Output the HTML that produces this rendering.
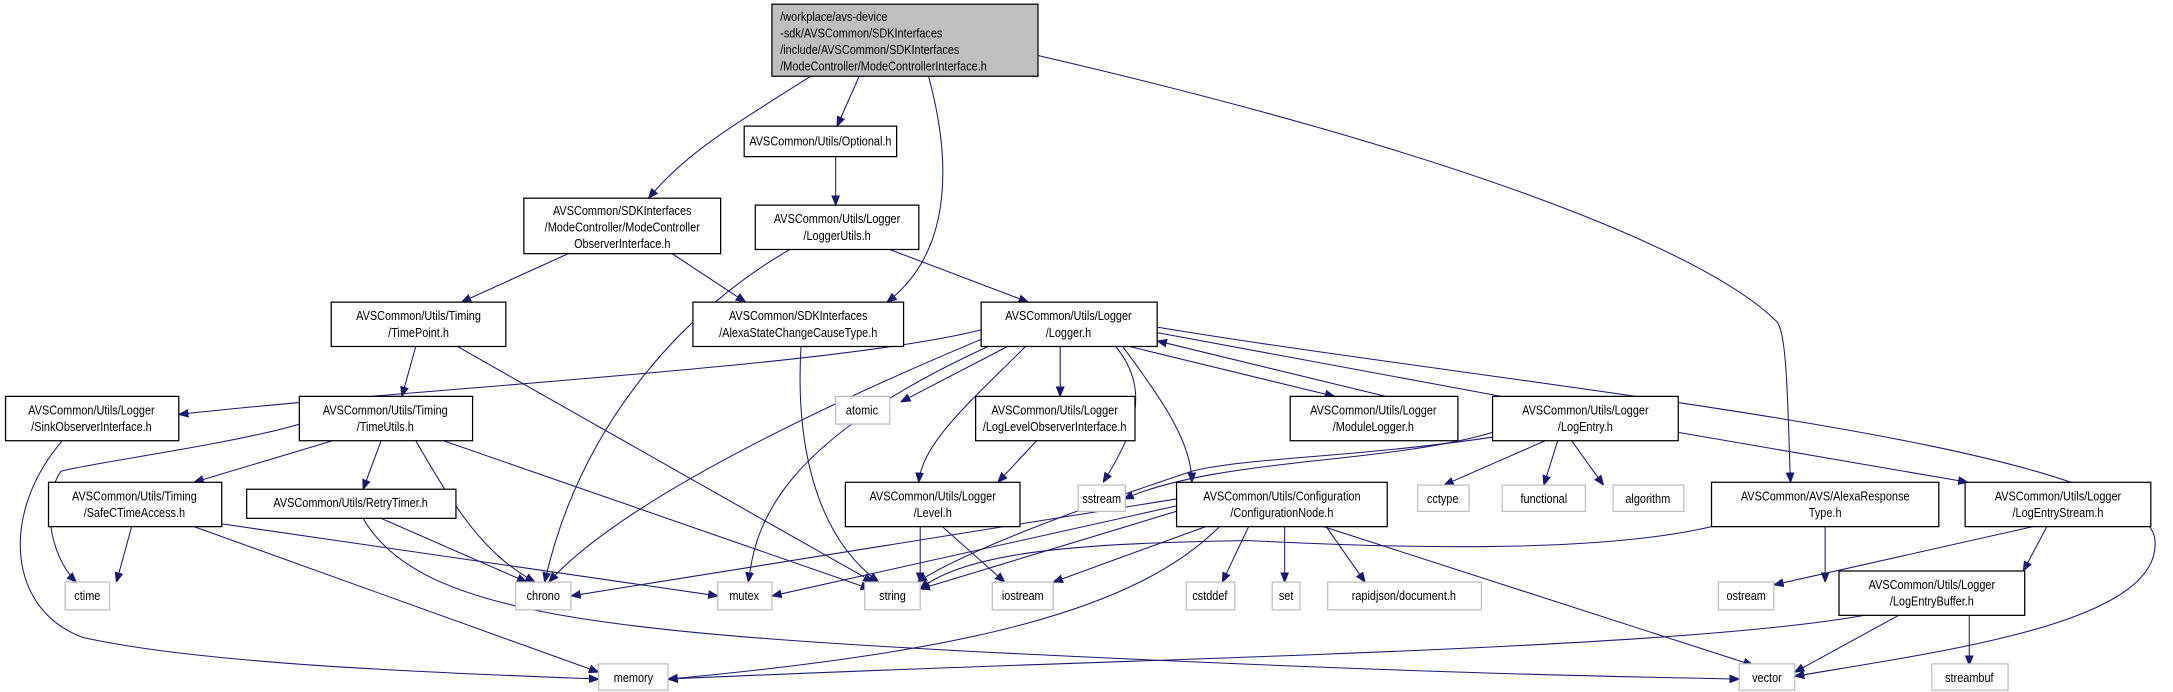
<!DOCTYPE html>
<html><head><meta charset="utf-8"><style>
html,body{margin:0;padding:0;background:#fff;}
svg{display:block;}
text{font-family:"Liberation Sans",sans-serif;font-size:9.6px;fill:#000;transform-box:fill-box;transform-origin:center;transform:scaleX(0.82);}
text.l{transform-origin:left;}
.n{fill:#fff;stroke:#000;stroke-width:0.9;}
.g{fill:#fff;stroke:#bfbfbf;stroke-width:0.9;}
.e{fill:none;stroke:#191970;stroke-width:0.75;}
</style></head><body>
<svg width="2173" height="692" viewBox="0 0 1568 499.3" xmlns="http://www.w3.org/2000/svg">
<defs><marker id="a" viewBox="0 0 10 10" refX="10" refY="5" markerWidth="7" markerHeight="7" markerUnits="userSpaceOnUse" orient="auto"><path d="M0,1 L10,5 L0,9 z" fill="#191970" stroke="#191970"/></marker></defs>
<g class="e" marker-end="url(#a)">
<path d="M585,55 C530,90 495,110 468,143"/>
<path d="M620,55 L604,91"/>
<path d="M670,55 C685,110 690,180 640,218"/>
<path d="M749,40 C1050,110 1230,180 1282,232 C1290,240 1290,300 1292,348"/>
<path d="M603,113 L603,148"/>
<path d="M410,183 L333,218"/>
<path d="M485,183 L538,218"/>
<path d="M570,180 C500,220 420,300 393,420"/>
<path d="M642,180 L742,218"/>
<path d="M300,250 L290,286"/>
<path d="M330,250 L630,420"/>
<path d="M578,250 C575,300 580,380 634,420"/>
<path d="M708,238 C600,265 300,280 129,299"/>
<path d="M710,244 C600,290 450,360 396,420"/>
<path d="M713,250 C560,320 545,380 540,420"/>
<path d="M727,250 L650,290"/>
<path d="M740,250 C700,290 665,320 663,348"/>
<path d="M765,250 L765,286"/>
<path d="M805,250 C830,280 820,310 796,348"/>
<path d="M810,250 C840,290 860,320 860,348"/>
<path d="M815,250 L963,286"/>
<path d="M1000,286 L835,246"/>
<path d="M835,240 L1105,290"/>
<path d="M835,236 C1100,280 1550,320 1555,390 C1560,450 1400,470 1295,488"/>
<path d="M45,318 C0,370 5,440 60,460 C150,480 330,486 432,490"/>
<path d="M216,306 C170,320 60,335 44,340 C30,360 35,400 55,420"/>
<path d="M240,318 L140,348"/>
<path d="M275,318 L262,353"/>
<path d="M300,318 C330,370 350,400 386,420"/>
<path d="M320,318 L628,425"/>
<path d="M95,380 L84,420"/>
<path d="M140,380 L432,485"/>
<path d="M160,378 L518,430"/>
<path d="M275,374 L380,420"/>
<path d="M262,374 C300,440 420,455 700,470 C1000,485 1150,488 1255,490"/>
<path d="M748,318 L720,348"/>
<path d="M664,380 L664,420"/>
<path d="M680,380 L725,420"/>
<path d="M1077,312 C1000,335 880,330 811,360"/>
<path d="M1080,315 C980,330 900,330 860,340 C800,360 700,395 662,420"/>
<path d="M1115,318 L1042,350"/>
<path d="M1124,318 L1114,350"/>
<path d="M1134,318 L1157,350"/>
<path d="M1211,312 L1420,348"/>
<path d="M849,360 L412,430"/>
<path d="M849,365 L557,430"/>
<path d="M852,368 L664,425"/>
<path d="M870,380 L760,420"/>
<path d="M880,380 C820,440 700,470 482,490"/>
<path d="M901,380 L882,420"/>
<path d="M927,380 L927,420"/>
<path d="M957,380 L985,420"/>
<path d="M955,380 L1265,480"/>
<path d="M1235,380 C1150,400 1000,395 900,390 C800,392 700,395 664,425"/>
<path d="M1317,380 L1317,420"/>
<path d="M1467,380 L1280,422"/>
<path d="M1477,380 L1460,412"/>
<path d="M1345,444 C1200,470 800,475 482,490"/>
<path d="M1370,444 L1295,485"/>
<path d="M1421,444 L1421,480"/>
</g>
<rect x="557" y="3" width="192" height="52" fill="#bfbfbf" stroke="#000" stroke-width="0.9"/>
<text class="l" x="563" y="15">/workplace/avs-device</text>
<text class="l" x="563" y="27">-sdk/AVSCommon/SDKInterfaces</text>
<text class="l" x="563" y="39">/include/AVSCommon/SDKInterfaces</text>
<text class="l" x="563" y="51">/ModeController/ModeControllerInterface.h</text>
<g text-anchor="middle">
<rect class="n" x="537" y="91" width="110" height="22"/><text x="592" y="105">AVSCommon/Utils/Optional.h</text>
<rect class="n" x="378" y="143" width="142" height="40"/><text x="449" y="155">AVSCommon/SDKInterfaces</text><text x="449" y="167">/ModeController/ModeController</text><text x="449" y="179">ObserverInterface.h</text>
<rect class="n" x="545" y="148" width="118" height="32"/><text x="604" y="161">AVSCommon/Utils/Logger</text><text x="604" y="173">/LoggerUtils.h</text>
<rect class="n" x="239" y="218" width="126" height="32"/><text x="302" y="231">AVSCommon/Utils/Timing</text><text x="302" y="243">/TimePoint.h</text>
<rect class="n" x="500" y="218" width="152" height="32"/><text x="576" y="231">AVSCommon/SDKInterfaces</text><text x="576" y="243">/AlexaStateChangeCauseType.h</text>
<rect class="n" x="708" y="218" width="127" height="32"/><text x="771" y="231">AVSCommon/Utils/Logger</text><text x="771" y="243">/Logger.h</text>
<rect class="n" x="4" y="286" width="125" height="32"/><text x="66" y="299">AVSCommon/Utils/Logger</text><text x="66" y="311">/SinkObserverInterface.h</text>
<rect class="n" x="216" y="286" width="125" height="32"/><text x="278" y="299">AVSCommon/Utils/Timing</text><text x="278" y="311">/TimeUtils.h</text>
<rect class="g" x="603" y="286" width="39" height="20"/><text x="622" y="299">atomic</text>
<rect class="n" x="704" y="286" width="115" height="32"/><text x="761" y="299">AVSCommon/Utils/Logger</text><text x="761" y="311">/LogLevelObserverInterface.h</text>
<rect class="n" x="931" y="286" width="121" height="32"/><text x="991" y="299">AVSCommon/Utils/Logger</text><text x="991" y="311">/ModuleLogger.h</text>
<rect class="n" x="1077" y="286" width="134" height="32"/><text x="1144" y="299">AVSCommon/Utils/Logger</text><text x="1144" y="311">/LogEntry.h</text>
<rect class="n" x="35" y="348" width="125" height="32"/><text x="97" y="361">AVSCommon/Utils/Timing</text><text x="97" y="373">/SafeCTimeAccess.h</text>
<rect class="n" x="178" y="353" width="151" height="21"/><text x="253" y="366">AVSCommon/Utils/RetryTimer.h</text>
<rect class="n" x="610" y="348" width="126" height="32"/><text x="673" y="361">AVSCommon/Utils/Logger</text><text x="673" y="373">/Level.h</text>
<rect class="g" x="778" y="350" width="34" height="19"/><text x="795" y="363">sstream</text>
<rect class="n" x="849" y="348" width="152" height="32"/><text x="925" y="361">AVSCommon/Utils/Configuration</text><text x="925" y="373">/ConfigurationNode.h</text>
<rect class="g" x="1023" y="350" width="37" height="19"/><text x="1041" y="363">cctype</text>
<rect class="g" x="1084" y="350" width="60" height="19"/><text x="1114" y="363">functional</text>
<rect class="g" x="1164" y="350" width="51" height="19"/><text x="1189" y="363">algorithm</text>
<rect class="n" x="1235" y="348" width="164" height="32"/><text x="1317" y="361">AVSCommon/AVS/AlexaResponse</text><text x="1317" y="373">Type.h</text>
<rect class="n" x="1418" y="348" width="134" height="32"/><text x="1485" y="361">AVSCommon/Utils/Logger</text><text x="1485" y="373">/LogEntryStream.h</text>
<rect class="g" x="47" y="420" width="32" height="20"/><text x="63" y="433">ctime</text>
<rect class="g" x="372" y="420" width="40" height="20"/><text x="392" y="433">chrono</text>
<rect class="g" x="518" y="420" width="39" height="20"/><text x="537" y="433">mutex</text>
<rect class="g" x="624" y="420" width="40" height="20"/><text x="644" y="433">string</text>
<rect class="g" x="716" y="420" width="44" height="20"/><text x="738" y="433">iostream</text>
<rect class="g" x="856" y="420" width="35" height="20"/><text x="873" y="433">cstddef</text>
<rect class="g" x="918" y="420" width="20" height="20"/><text x="928" y="433">set</text>
<rect class="g" x="958" y="420" width="111" height="20"/><text x="1013" y="433">rapidjson/document.h</text>
<rect class="g" x="1240" y="420" width="40" height="20"/><text x="1260" y="433">ostream</text>
<rect class="n" x="1327" y="412" width="134" height="32"/><text x="1394" y="425">AVSCommon/Utils/Logger</text><text x="1394" y="437">/LogEntryBuffer.h</text>
<rect class="g" x="432" y="479" width="50" height="19"/><text x="457" y="492">memory</text>
<rect class="g" x="1255" y="479" width="40" height="19"/><text x="1275" y="492">vector</text>
<rect class="g" x="1394" y="479" width="55" height="19"/><text x="1421" y="492">streambuf</text>
</g>
</svg>
</body></html>
